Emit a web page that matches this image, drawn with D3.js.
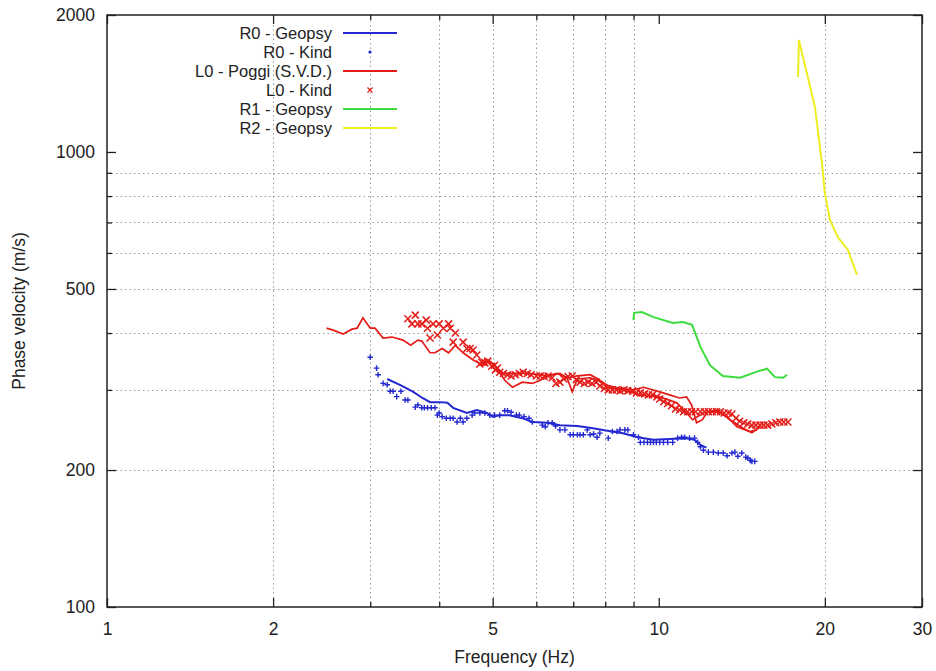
<!DOCTYPE html>
<html lang="en">
  <head>
    <meta charset="UTF-8" />
    <title>Dispersion curves</title>
    <script src="https://d3js.org/d3.v7.min.js"></script>
    <style>
      body {
        margin: 0;
        background: #fff;
      }
      svg text {
        font-family: "Liberation Sans", Arial, sans-serif;
        fill: #222;
      }
    </style>
  </head>
  <body>
    <svg width="936" height="671"></svg>
    <script>
      // R0 - Geopsy [freq Hz, velocity m/s]
      let r0Geopsy = [
        [3.22, 317], [3.41, 307], [3.59, 297], [3.73, 288], [3.85, 282],
        [4.02, 282], [4.14, 281], [4.24, 274], [4.49, 267], [4.68, 271],
        [4.88, 267], [5.0, 262], [5.15, 264], [5.36, 264], [5.66, 260],
        [5.9, 255], [6.28, 254], [6.62, 251], [7.12, 250], [7.6, 247],
        [8.07, 244], [8.61, 241], [9.15, 236], [9.78, 233], [10.46, 234],
        [11.23, 235], [11.61, 233], [11.9, 227], [12.2, 224]
      ];

      // R0 - Kind
      let r0Kind = [
        [3.0, 354], [3.08, 335], [3.1, 324], [3.165, 310], [3.22, 308],
        [3.26, 298], [3.3, 298], [3.35, 290], [3.41, 298], [3.47, 285],
        [3.51, 285], [3.62, 275], [3.66, 278], [3.72, 274], [3.76, 274],
        [3.81, 274], [3.87, 274], [3.93, 274], [3.97, 264], [4.0, 267],
        [4.05, 262], [4.12, 260], [4.19, 260], [4.24, 260], [4.31, 255],
        [4.37, 260], [4.42, 255], [4.49, 260], [4.59, 264], [4.64, 267],
        [4.74, 267], [4.84, 267], [4.94, 264], [5.04, 264], [5.15, 264],
        [5.26, 270], [5.32, 270], [5.4, 268], [5.52, 264], [5.59, 264],
        [5.7, 262], [5.82, 260], [5.9, 255], [6.15, 251], [6.23, 249],
        [6.3, 254], [6.41, 254], [6.5, 250], [6.62, 245], [6.76, 245],
        [6.91, 239], [7.0, 239], [7.12, 239], [7.2, 239], [7.3, 239],
        [7.42, 245], [7.51, 239], [7.62, 240], [7.73, 236], [7.82, 241],
        [8.1, 235], [8.24, 243], [8.4, 243], [8.51, 245], [8.68, 245],
        [8.79, 245], [9.0, 239], [9.19, 236], [9.26, 230], [9.4, 230],
        [9.54, 230], [9.66, 230], [9.78, 230], [9.9, 230], [10.04, 230],
        [10.2, 230], [10.38, 230], [10.6, 230], [10.82, 235], [11.0, 236],
        [11.14, 236], [11.37, 235], [11.61, 235], [11.76, 230], [11.9, 225],
        [12.05, 221], [12.3, 219], [12.56, 219], [12.82, 218], [13.09, 218],
        [13.3, 215], [13.57, 218], [13.74, 219], [13.91, 214.5], [14.14, 218],
        [14.38, 213.5], [14.5, 212.5], [14.65, 210], [14.75, 209], [14.93, 209]
      ];

      // L0 - Poggi (S.V.D.), two branches
      let l0PoggiA = [
        [2.5, 410], [2.57, 406], [2.68, 398], [2.78, 408], [2.84, 410],
        [2.91, 432], [3.0, 410], [3.06, 410], [3.165, 390], [3.285, 392],
        [3.44, 386], [3.55, 376], [3.66, 386], [3.72, 384], [3.85, 362],
        [3.93, 362], [4.05, 370], [4.16, 362], [4.28, 376], [4.42, 362],
        [4.61, 349], [4.8, 340], [4.94, 347], [5.08, 335], [5.21, 326],
        [5.43, 326], [5.82, 326], [6.28, 322], [6.54, 326], [6.82, 319],
        [7.12, 322], [7.51, 324], [7.76, 317], [8.07, 307], [8.51, 302],
        [9.0, 300], [9.38, 304], [10.04, 297], [10.46, 292.5], [10.91, 288],
        [11.23, 289.6], [11.47, 278], [11.71, 254], [12.0, 258], [12.25, 268.5],
        [12.77, 268.5], [13.3, 262], [13.86, 249], [14.62, 243], [15.07, 245]
      ];
      let l0PoggiB = [
        [5.08, 335], [5.26, 315], [5.43, 304], [5.66, 312], [5.9, 310],
        [6.1, 315], [6.28, 322], [6.62, 326], [6.82, 319], [6.97, 297],
        [7.12, 317], [7.51, 319], [7.76, 315], [8.07, 304], [8.27, 302],
        [8.76, 300], [9.15, 292.5], [10.04, 289.6], [10.78, 281], [11.23, 267],
        [11.52, 258], [12.05, 267], [12.77, 271], [13.46, 258], [14.2, 247.5],
        [14.75, 241.5], [15.26, 249]
      ];

      // L0 - Kind
      let l0Kind = [
        [3.51, 430], [3.62, 438], [3.57, 419], [3.66, 419], [3.72, 419],
        [3.79, 427], [3.81, 410], [3.85, 390], [3.9, 419], [3.97, 396],
        [4.0, 419], [4.07, 410], [4.16, 419], [4.19, 410], [4.28, 400],
        [4.24, 382], [4.42, 382], [4.49, 370], [4.55, 370], [4.61, 367],
        [4.68, 358], [4.74, 342], [4.78, 345], [4.82, 345], [4.84, 344],
        [4.9, 347], [4.98, 338], [5.04, 340], [5.06, 332], [5.1, 335],
        [5.15, 328], [5.23, 326], [5.32, 324], [5.4, 322], [5.5, 324],
        [5.59, 326], [5.68, 328], [5.78, 326], [5.87, 324], [6.0, 322],
        [6.1, 322], [6.2, 321], [6.3, 322], [6.41, 319], [6.51, 310],
        [6.62, 312], [6.73, 317], [6.85, 321], [6.97, 322], [7.09, 316],
        [7.2, 312], [7.33, 310], [7.45, 312], [7.57, 310], [7.7, 312],
        [7.82, 306], [7.97, 302], [8.1, 300], [8.24, 300], [8.38, 300],
        [8.51, 298.5], [8.65, 300], [8.79, 298.5], [8.96, 298.5], [9.11, 295.5],
        [9.26, 295.5], [9.42, 294], [9.58, 292.5], [9.74, 292.5], [9.92, 289.6],
        [10.04, 286.5], [10.21, 282.5], [10.38, 280], [10.55, 277], [10.73, 272.5],
        [10.91, 271], [11.09, 268.5], [11.28, 268.5], [11.47, 268.5], [11.66, 268.5],
        [11.9, 268.5], [12.1, 268.5], [12.3, 268.5], [12.5, 268.5], [12.72, 268.5],
        [12.93, 268.5], [13.14, 267], [13.36, 267], [13.57, 265.5], [13.8, 260],
        [14.02, 256], [14.26, 254], [14.5, 252.5], [14.75, 251], [15.0, 251],
        [15.26, 251], [15.5, 251], [15.76, 251], [16.03, 252.5], [16.3, 254],
        [16.57, 255], [16.85, 255], [17.14, 255]
      ];

      // R1 - Geopsy
      let r1Geopsy = [
        [9.0, 427], [9.02, 443], [9.32, 445], [9.76, 434], [10.61, 421],
        [11.06, 423], [11.49, 417], [11.9, 373], [12.38, 340], [13.07, 322],
        [14.04, 319], [15.07, 329], [15.71, 334], [16.24, 320], [16.8, 319],
        [17.08, 324]
      ];

      // R2 - Geopsy
      let r2Geopsy = [
        [17.88, 1461], [17.95, 1763], [19.19, 1256], [19.76, 946], [20.0, 812],
        [20.43, 709], [21.12, 650], [22.02, 609], [22.87, 537]
      ];

      let xMajor = [1, 2, 5, 10, 20, 30];
      let xMinor = [3, 4, 6, 7, 8, 9];
      let xGrid = [2, 3, 4, 5, 6, 7, 8, 9, 20];
      let yMajor = [100, 200, 500, 1000, 2000];
      let yMinor = [300, 400, 600, 700, 800, 900];
      let yGrid = [200, 300, 400, 500, 600, 700, 800, 900];

      let margin = { left: 107, right: 14, top: 15, bottom: 64 };
      let width = 936,
        height = 671;

      let svg = d3.select("svg");

      let x = d3
        .scaleLog()
        .domain([1, 30])
        .range([margin.left, width - margin.right]);
      let y = d3
        .scaleLog()
        .domain([100, 2000])
        .range([height - margin.bottom, margin.top]);

      let blue = "#2328d0",
        red = "#e41b17",
        green = "#3cdc3c",
        yellow = "#eeee22";

      // grid
      let grid = svg
        .append("g")
        .attr("stroke", "#9a9a9a")
        .attr("stroke-width", 1)
        .attr("stroke-dasharray", "1.5,3");
      grid
        .selectAll("line.gx")
        .data(xGrid)
        .enter()
        .append("line")
        .attr("x1", (d) => Math.round(x(d)) + 0.5)
        .attr("x2", (d) => Math.round(x(d)) + 0.5)
        .attr("y1", y.range()[0])
        .attr("y2", y.range()[1]);
      grid
        .selectAll("line.gy")
        .data(yGrid)
        .enter()
        .append("line")
        .attr("y1", (d) => Math.round(y(d)) + 0.5)
        .attr("y2", (d) => Math.round(y(d)) + 0.5)
        .attr("x1", x.range()[0])
        .attr("x2", x.range()[1]);

      // axes (ticks inward, mirrored)
      function styleAxis(g) {
        g.select(".domain").remove();
        g.selectAll(".tick line").attr("stroke", "#222").attr("stroke-width", 1.3);
        g.selectAll(".tick text")
          .attr("font-size", 17.5)
          .attr("fill", "#222")
          .style("font-family", "'Liberation Sans', Arial, sans-serif");
      }
      let fmt = (d) => d;
      let yb = y.range()[0],
        yt = y.range()[1],
        xl = x.range()[0],
        xr = x.range()[1];

      svg.append("g")
        .attr("transform", "translate(0," + yb + ")")
        .call(d3.axisBottom(x).tickValues(xMajor).tickFormat(fmt).tickSize(-9).tickPadding(16))
        .call(styleAxis);
      svg.append("g")
        .attr("transform", "translate(0," + yb + ")")
        .call(d3.axisBottom(x).tickValues(xMinor).tickFormat("").tickSize(-5))
        .call(styleAxis);
      svg.append("g")
        .attr("transform", "translate(0," + yt + ")")
        .call(d3.axisTop(x).tickValues(xMajor).tickFormat("").tickSize(-9))
        .call(styleAxis);
      svg.append("g")
        .attr("transform", "translate(0," + yt + ")")
        .call(d3.axisTop(x).tickValues(xMinor).tickFormat("").tickSize(-5))
        .call(styleAxis);

      svg.append("g")
        .attr("transform", "translate(" + xl + ",0)")
        .call(d3.axisLeft(y).tickValues(yMajor).tickFormat(fmt).tickSize(-9).tickPadding(12))
        .call(styleAxis);
      svg.append("g")
        .attr("transform", "translate(" + xl + ",0)")
        .call(d3.axisLeft(y).tickValues(yMinor).tickFormat("").tickSize(-5))
        .call(styleAxis);
      svg.append("g")
        .attr("transform", "translate(" + xr + ",0)")
        .call(d3.axisRight(y).tickValues(yMajor).tickFormat("").tickSize(-9))
        .call(styleAxis);
      svg.append("g")
        .attr("transform", "translate(" + xr + ",0)")
        .call(d3.axisRight(y).tickValues(yMinor).tickFormat("").tickSize(-5))
        .call(styleAxis);

      // frame
      svg.append("rect")
        .attr("x", xl)
        .attr("y", yt)
        .attr("width", xr - xl)
        .attr("height", yb - yt)
        .attr("fill", "none")
        .attr("stroke", "#222")
        .attr("stroke-width", 1.5);

      // axis titles
      svg.append("text")
        .attr("x", (xl + xr) / 2)
        .attr("y", 663)
        .attr("text-anchor", "middle")
        .attr("font-size", 17.5)
        .text("Frequency (Hz)");
      svg.append("text")
        .attr("transform", "translate(25," + (yt + yb) / 2 + ") rotate(-90)")
        .attr("text-anchor", "middle")
        .attr("font-size", 17.5)
        .text("Phase velocity (m/s)");

      let line = d3
        .line()
        .x((d) => x(d[0]))
        .y((d) => y(d[1]));

      let plot = svg.append("g");

      // marker shapes
      function plus(g, pts, color) {
        g.selectAll("path")
          .data(pts)
          .enter()
          .append("path")
          .attr("d", (d) => {
            let px = x(d[0]),
              py = y(d[1]),
              s = 2.8;
            return "M" + (px - s) + "," + py + "H" + (px + s) + "M" + px + "," + (py - s) + "V" + (py + s);
          })
          .attr("stroke", color)
          .attr("stroke-width", 1.4)
          .attr("fill", "none");
      }
      function cross(g, pts, color) {
        g.selectAll("path")
          .data(pts)
          .enter()
          .append("path")
          .attr("d", (d) => {
            let px = x(d[0]),
              py = y(d[1]),
              s = 3.5;
            return "M" + (px - s) + "," + (py - s) + "L" + (px + s) + "," + (py + s) + "M" + (px - s) + "," + (py + s) + "L" + (px + s) + "," + (py - s);
          })
          .attr("stroke", color)
          .attr("stroke-width", 1.5)
          .attr("fill", "none");
      }

      cross(plot.append("g"), l0Kind, red);
      [l0PoggiA, l0PoggiB].forEach((s) => {
        plot.append("path")
          .datum(s)
          .attr("d", line)
          .attr("fill", "none")
          .attr("stroke", red)
          .attr("stroke-width", 1.7);
      });
      plus(plot.append("g"), r0Kind, blue);
      plot.append("path")
        .datum(r0Geopsy)
        .attr("d", line)
        .attr("fill", "none")
        .attr("stroke", blue)
        .attr("stroke-width", 2);
      plot.append("path")
        .datum(r1Geopsy)
        .attr("d", line)
        .attr("fill", "none")
        .attr("stroke", green)
        .attr("stroke-width", 2);
      plot.append("path")
        .datum(r2Geopsy)
        .attr("d", line)
        .attr("fill", "none")
        .attr("stroke", yellow)
        .attr("stroke-width", 2);

      // legend
      let legendItems = [
        { label: "R0 - Geopsy", color: blue, kind: "line" },
        { label: "R0 - Kind", color: blue, kind: "dot" },
        { label: "L0 - Poggi (S.V.D.)", color: red, kind: "line" },
        { label: "L0 - Kind", color: red, kind: "cross" },
        { label: "R1 - Geopsy", color: green, kind: "line" },
        { label: "R2 - Geopsy", color: yellow, kind: "line" }
      ];
      let legend = svg
        .append("g")
        .selectAll("g")
        .data(legendItems)
        .enter()
        .append("g")
        .attr("transform", (d, i) => "translate(0," + (33 + i * 19) + ")");
      legend
        .append("text")
        .attr("x", 332)
        .attr("dy", "0.36em")
        .attr("text-anchor", "end")
        .attr("font-size", 16.5)
        .text((d) => d.label);
      legend
        .filter((d) => d.kind == "line")
        .append("line")
        .attr("x1", 343)
        .attr("x2", 397)
        .attr("stroke", (d) => d.color)
        .attr("stroke-width", 2);
      legend
        .filter((d) => d.kind == "dot")
        .append("circle")
        .attr("cx", 370)
        .attr("r", 1.6)
        .attr("fill", (d) => d.color);
      legend
        .filter((d) => d.kind == "cross")
        .append("path")
        .attr("d", "M367.5,-2.5L372.5,2.5M367.5,2.5L372.5,-2.5")
        .attr("stroke", (d) => d.color)
        .attr("stroke-width", 1.2);
    </script>
  </body>
</html>
